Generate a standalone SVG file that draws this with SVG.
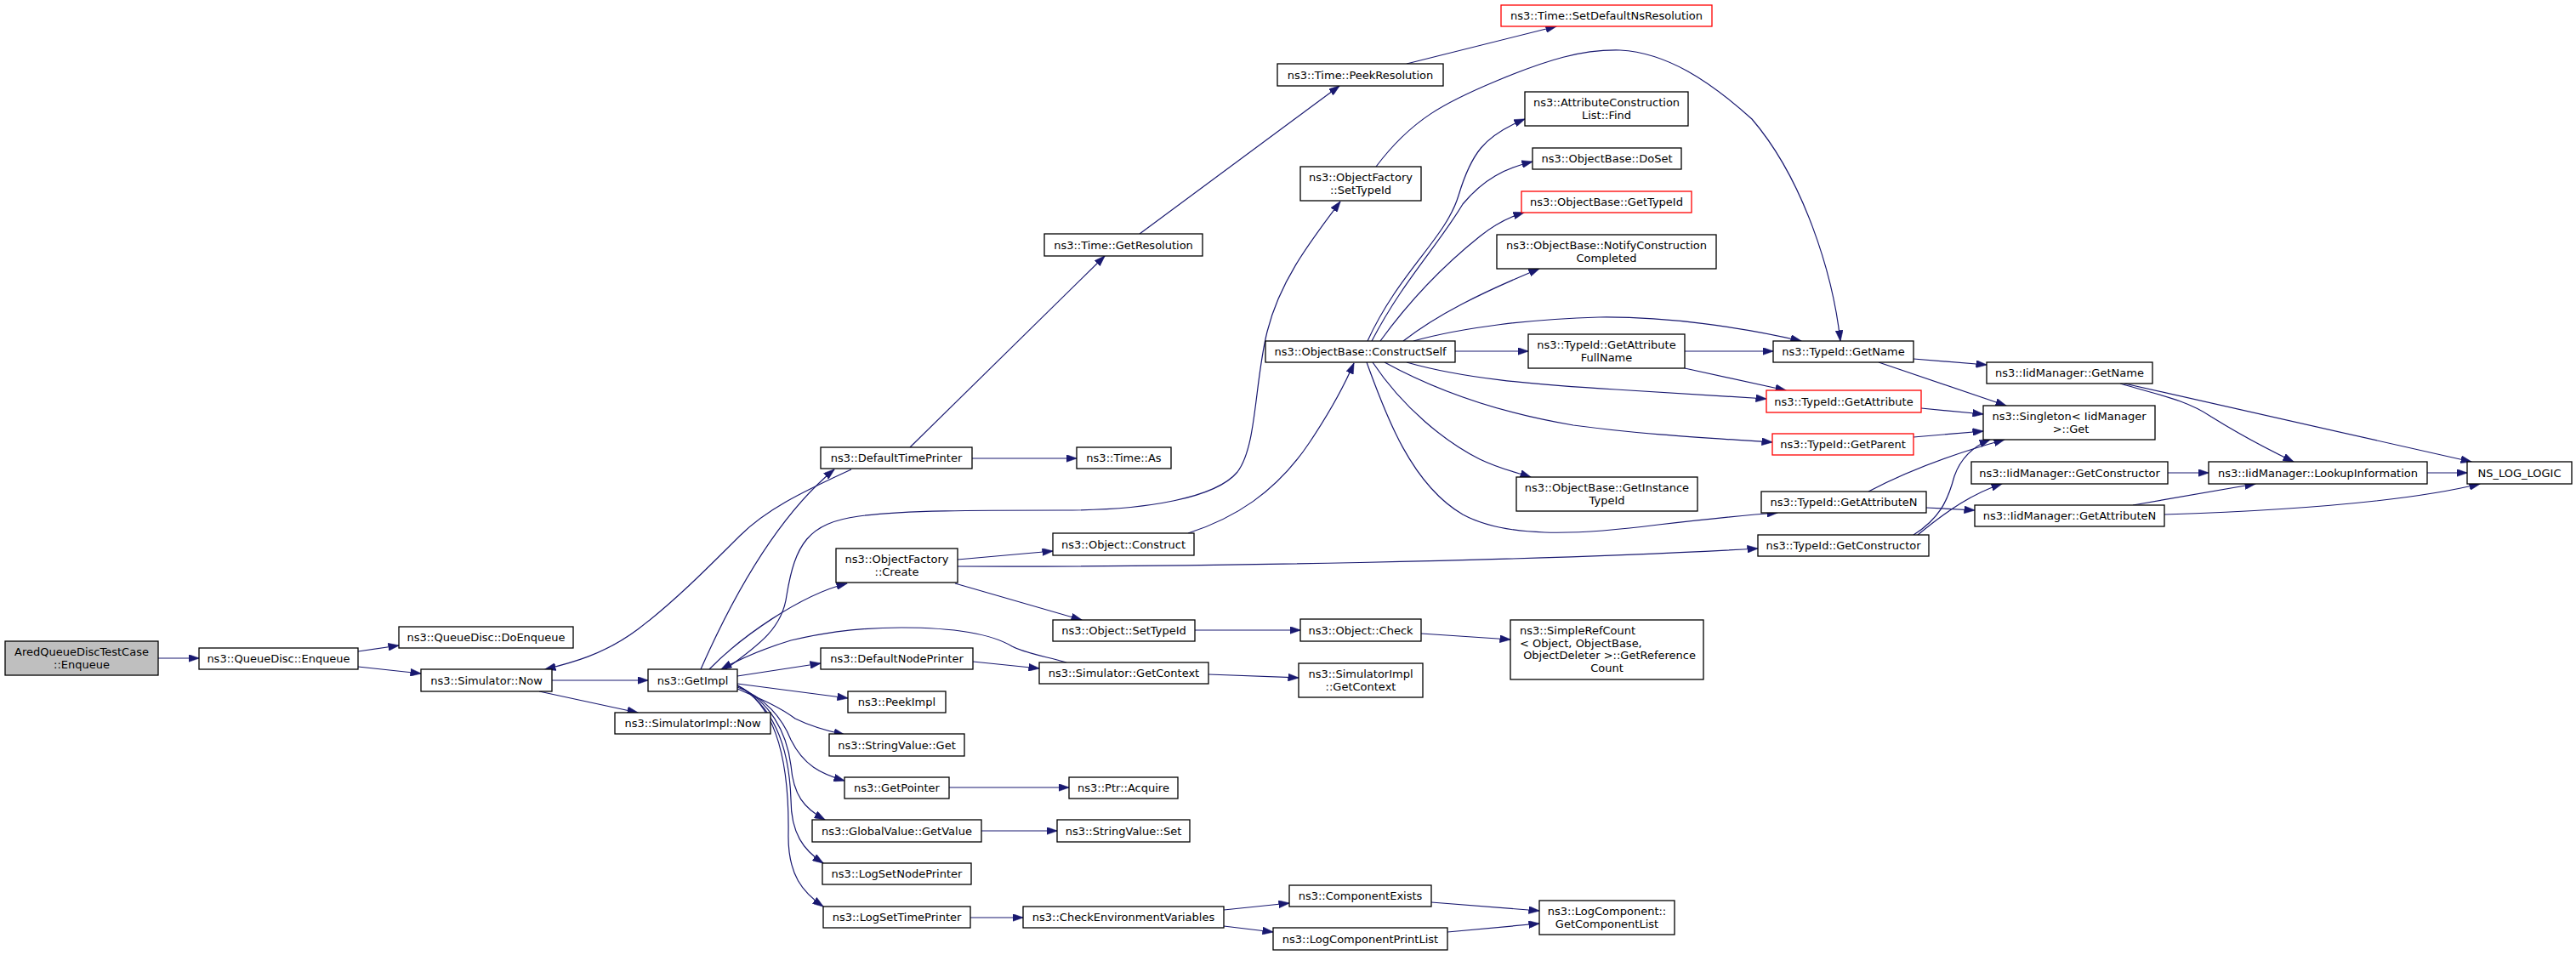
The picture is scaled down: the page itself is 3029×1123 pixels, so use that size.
<svg xmlns="http://www.w3.org/2000/svg" width="3029" height="1123" viewBox="0 0 3029 1123">
<style>
.bg{fill:#ffffff}
.n rect{fill:#ffffff;stroke:#000000;stroke-width:1.3}
.n.red rect{stroke:#ff0000}
.n.root rect{fill:#bfbfbf}
.n text{font-family:"DejaVu Sans","Liberation Sans",sans-serif;font-size:13px;fill:#000000;text-anchor:middle}
.n text.l{text-anchor:start}
#edges path{fill:none;stroke:#191970;stroke-width:1.2;marker-end:url(#ah)}
</style>
<defs>
<marker id="ah" markerUnits="userSpaceOnUse" markerWidth="13" markerHeight="9" viewBox="0 0 13 9" refX="12.5" refY="4.5" orient="auto">
<path d="M0,0 L13,4.5 L0,9 z" fill="#191970" stroke="#191970" stroke-width="0.5"/>
</marker>
</defs>
<rect class="bg" x="0" y="0" width="3029" height="1123"/>
<g id="edges">
<path d="M186,774 L234,774"/>
<path d="M421,766 L469,759"/>
<path d="M421,784 L495,792"/>
<path d="M649,800 L762,800"/>
<path d="M634,813 L750,838"/>
<path d="M824,787 C880,660 935,590 981,552"/>
<path d="M1001,552 C940,580 900,600 870,630 C830,670 790,710 750,740 C710,770 670,780 641,787"/>
<path d="M1070,526 L1299,301"/>
<path d="M1340,275 L1575,101"/>
<path d="M1654,75 L1830,31"/>
<path d="M1618,196 C1660,140 1700,120 1760,95 C1820,70 1860,58 1905,59 C1960,62 2010,95 2060,140 C2120,210 2155,320 2164,401"/>
<path d="M853,787 C890,760 920,740 925,700 C935,640 950,615 1010,607 C1060,600 1150,600 1250,600 C1350,600 1430,585 1455,555 C1478,525 1475,450 1490,390 C1505,330 1540,285 1576,237"/>
<path d="M1254,779 C1230,772 1205,768 1190,760 C1170,748 1130,738 1060,738 C1000,738 960,746 930,753 C900,762 870,775 848,787"/>
<path d="M834,787 C870,750 940,700 996,686"/>
<path d="M867,795 L965,780"/>
<path d="M867,804 L997,821"/>
<path d="M867,810 C890,820 915,830 935,845 C955,855 975,860 993,864"/>
<path d="M867,808 C900,820 920,845 930,870 C945,900 965,910 993,918"/>
<path d="M867,806 C905,825 925,860 930,900 C933,935 945,950 970,964"/>
<path d="M867,806 C910,830 928,880 930,940 C930,980 945,1000 968,1015"/>
<path d="M867,806 C915,830 928,900 927,980 C926,1030 945,1050 968,1066"/>
<path d="M1126,658 L1238,648"/>
<path d="M1123,686 L1272,729"/>
<path d="M1126,666 C1400,667 1800,660 2067,645"/>
<path d="M1397,627 C1450,610 1500,580 1540,520 C1560,490 1580,455 1592,427"/>
<path d="M1405,741 L1529,741"/>
<path d="M1144,778 L1222,786"/>
<path d="M1421,793 L1527,797"/>
<path d="M1116,926 L1257,926"/>
<path d="M1154,977 L1243,977"/>
<path d="M1141,1079 L1203,1079"/>
<path d="M1439,1070 L1516,1062"/>
<path d="M1439,1089 L1497,1096"/>
<path d="M1683,1061 L1810,1071"/>
<path d="M1702,1096 L1810,1086"/>
<path d="M1143,539 L1266,539"/>
<path d="M1671,745 L1776,752"/>
<path d="M1608,401 C1645,320 1700,280 1715,230 C1730,180 1745,160 1793,140"/>
<path d="M1613,401 C1650,330 1690,290 1720,240 C1745,210 1770,198 1802,190"/>
<path d="M1623,401 C1660,350 1700,310 1740,278 C1760,262 1775,255 1792,250"/>
<path d="M1650,401 C1690,370 1740,345 1810,316"/>
<path d="M1662,401 C1720,385 1800,375 1880,373 C1960,372 2050,385 2118,401"/>
<path d="M1711,413 L1797,413"/>
<path d="M1654,426 C1720,445 1800,452 1900,458 C1980,463 2030,466 2077,469"/>
<path d="M1628,426 C1690,460 1760,485 1850,500 C1940,512 2010,515 2084,520"/>
<path d="M1614,426 C1650,480 1700,520 1740,540 C1765,552 1785,556 1800,561"/>
<path d="M1607,426 C1630,490 1660,570 1720,605 C1770,632 1850,630 1950,617 C2010,610 2060,605 2090,603"/>
<path d="M1981,413 L2085,413"/>
<path d="M1981,433 L2100,459"/>
<path d="M2250,422 L2336,429"/>
<path d="M2209,426 L2359,477"/>
<path d="M2259,480 L2332,487"/>
<path d="M2250,514 L2332,507"/>
<path d="M2197,578 C2250,550 2310,530 2357,517"/>
<path d="M2265,597 L2322,600"/>
<path d="M2250,629 C2280,610 2290,590 2298,560 C2305,540 2320,525 2340,517"/>
<path d="M2255,629 C2290,600 2320,580 2354,569"/>
<path d="M2493,451 C2540,465 2570,470 2600,490 C2640,515 2670,530 2697,543"/>
<path d="M2498,451 L2906,543"/>
<path d="M2549,556 L2597,556"/>
<path d="M2508,594 L2652,569"/>
<path d="M2545,605 C2700,600 2830,590 2916,569"/>
<path d="M2854,556 L2901,556"/>
</g>
<g id="n1" class="n root"><rect x="6" y="754" width="180" height="40"/><text x="96" y="771">AredQueueDiscTestCase</text><text x="96" y="785.5">::Enqueue</text></g>
<g id="n2" class="n"><rect x="234" y="762" width="187" height="25"/><text x="327.5" y="779">ns3::QueueDisc::Enqueue</text></g>
<g id="n3" class="n"><rect x="469" y="737" width="205" height="25"/><text x="571.5" y="754">ns3::QueueDisc::DoEnqueue</text></g>
<g id="n4" class="n"><rect x="495" y="787" width="154" height="26"/><text x="572" y="804.5">ns3::Simulator::Now</text></g>
<g id="n5" class="n"><rect x="723" y="838" width="183" height="25"/><text x="814.5" y="855">ns3::SimulatorImpl::Now</text></g>
<g id="n6" class="n"><rect x="762" y="787" width="105" height="26"/><text x="814.5" y="804.5">ns3::GetImpl</text></g>
<g id="n7" class="n"><rect x="983" y="645" width="143" height="40"/><text x="1054.5" y="662">ns3::ObjectFactory</text><text x="1054.5" y="676.5">::Create</text></g>
<g id="n8" class="n"><rect x="1238" y="627" width="166" height="26"/><text x="1321" y="644.5">ns3::Object::Construct</text></g>
<g id="n9" class="n"><rect x="1238" y="729" width="167" height="25"/><text x="1321.5" y="746">ns3::Object::SetTypeId</text></g>
<g id="n10" class="n"><rect x="965" y="762" width="179" height="25"/><text x="1054.5" y="779">ns3::DefaultNodePrinter</text></g>
<g id="n11" class="n"><rect x="1222" y="779" width="199" height="25"/><text x="1321.5" y="796">ns3::Simulator::GetContext</text></g>
<g id="n12" class="n"><rect x="997" y="813" width="115" height="25"/><text x="1054.5" y="830">ns3::PeekImpl</text></g>
<g id="n13" class="n"><rect x="975" y="863" width="159" height="26"/><text x="1054.5" y="880.5">ns3::StringValue::Get</text></g>
<g id="n14" class="n"><rect x="993" y="914" width="123" height="25"/><text x="1054.5" y="931">ns3::GetPointer</text></g>
<g id="n15" class="n"><rect x="1257" y="914" width="128" height="25"/><text x="1321" y="931">ns3::Ptr::Acquire</text></g>
<g id="n16" class="n"><rect x="955" y="964" width="199" height="26"/><text x="1054.5" y="981.5">ns3::GlobalValue::GetValue</text></g>
<g id="n17" class="n"><rect x="1243" y="964" width="156" height="26"/><text x="1321" y="981.5">ns3::StringValue::Set</text></g>
<g id="n18" class="n"><rect x="967" y="1015" width="175" height="25"/><text x="1054.5" y="1032">ns3::LogSetNodePrinter</text></g>
<g id="n19" class="n"><rect x="968" y="1066" width="173" height="25"/><text x="1054.5" y="1083">ns3::LogSetTimePrinter</text></g>
<g id="n20" class="n"><rect x="1203" y="1066" width="236" height="25"/><text x="1321" y="1083">ns3::CheckEnvironmentVariables</text></g>
<g id="n21" class="n"><rect x="1516" y="1041" width="167" height="25"/><text x="1599.5" y="1058">ns3::ComponentExists</text></g>
<g id="n22" class="n"><rect x="1497" y="1091" width="205" height="26"/><text x="1599.5" y="1108.5">ns3::LogComponentPrintList</text></g>
<g id="n23" class="n"><rect x="1810" y="1059" width="159" height="40"/><text x="1889.5" y="1076">ns3::LogComponent::</text><text x="1889.5" y="1090.5">GetComponentList</text></g>
<g id="n24" class="n"><rect x="965" y="526" width="178" height="25"/><text x="1054" y="543">ns3::DefaultTimePrinter</text></g>
<g id="n25" class="n"><rect x="1266" y="526" width="111" height="25"/><text x="1321.5" y="543">ns3::Time::As</text></g>
<g id="n26" class="n"><rect x="1228" y="275" width="186" height="26"/><text x="1321" y="292.5">ns3::Time::GetResolution</text></g>
<g id="n27" class="n"><rect x="1502" y="75" width="195" height="26"/><text x="1599.5" y="92.5">ns3::Time::PeekResolution</text></g>
<g id="n28" class="n red"><rect x="1765" y="6" width="248" height="25"/><text x="1889" y="23">ns3::Time::SetDefaultNsResolution</text></g>
<g id="n29" class="n"><rect x="1529" y="196" width="142" height="40"/><text x="1600" y="213">ns3::ObjectFactory</text><text x="1600" y="227.5">::SetTypeId</text></g>
<g id="n30" class="n"><rect x="1488" y="401" width="223" height="25"/><text x="1599.5" y="418">ns3::ObjectBase::ConstructSelf</text></g>
<g id="n31" class="n"><rect x="1793" y="108" width="192" height="40"/><text x="1889" y="125">ns3::AttributeConstruction</text><text x="1889" y="139.5">List::Find</text></g>
<g id="n32" class="n"><rect x="1802" y="174" width="175" height="25"/><text x="1889.5" y="191">ns3::ObjectBase::DoSet</text></g>
<g id="n33" class="n red"><rect x="1789" y="225" width="200" height="25"/><text x="1889" y="242">ns3::ObjectBase::GetTypeId</text></g>
<g id="n34" class="n"><rect x="1760" y="276" width="258" height="40"/><text x="1889" y="293">ns3::ObjectBase::NotifyConstruction</text><text x="1889" y="307.5">Completed</text></g>
<g id="n35" class="n"><rect x="1797" y="393" width="184" height="40"/><text x="1889" y="410">ns3::TypeId::GetAttribute</text><text x="1889" y="424.5">FullName</text></g>
<g id="n36" class="n"><rect x="2085" y="401" width="165" height="25"/><text x="2167.5" y="418">ns3::TypeId::GetName</text></g>
<g id="n37" class="n red"><rect x="2077" y="459" width="182" height="26"/><text x="2168" y="476.5">ns3::TypeId::GetAttribute</text></g>
<g id="n38" class="n red"><rect x="2084" y="510" width="166" height="25"/><text x="2167" y="527">ns3::TypeId::GetParent</text></g>
<g id="n39" class="n"><rect x="1783" y="561" width="213" height="40"/><text x="1889.5" y="578">ns3::ObjectBase::GetInstance</text><text x="1889.5" y="592.5">TypeId</text></g>
<g id="n40" class="n"><rect x="2071" y="578" width="194" height="25"/><text x="2168" y="595">ns3::TypeId::GetAttributeN</text></g>
<g id="n41" class="n"><rect x="2067" y="629" width="201" height="25"/><text x="2167.5" y="646">ns3::TypeId::GetConstructor</text></g>
<g id="n42" class="n"><rect x="1529" y="728" width="142" height="26"/><text x="1600" y="745.5">ns3::Object::Check</text></g>
<g id="n43" class="n"><rect x="1776" y="729" width="227" height="70"/><text class="l" x="1787" y="746">ns3::SimpleRefCount</text><text class="l" x="1787" y="760.5">&lt; Object, ObjectBase,</text><text class="l" x="1787" y="775" xml:space="preserve"> ObjectDeleter &gt;::GetReference</text><text x="1889.5" y="789.5">Count</text></g>
<g id="n44" class="n"><rect x="1527" y="780" width="146" height="40"/><text x="1600" y="797">ns3::SimulatorImpl</text><text x="1600" y="811.5">::GetContext</text></g>
<g id="n45" class="n"><rect x="2336" y="426" width="195" height="25"/><text x="2433.5" y="443">ns3::IidManager::GetName</text></g>
<g id="n46" class="n"><rect x="2332" y="477" width="202" height="40"/><text x="2433" y="494">ns3::Singleton&lt; IidManager</text><text x="2433" y="508.5" xml:space="preserve"> &gt;::Get</text></g>
<g id="n47" class="n"><rect x="2318" y="543" width="231" height="26"/><text x="2433.5" y="560.5">ns3::IidManager::GetConstructor</text></g>
<g id="n48" class="n"><rect x="2597" y="543" width="257" height="26"/><text x="2725.5" y="560.5">ns3::IidManager::LookupInformation</text></g>
<g id="n49" class="n"><rect x="2901" y="543" width="123" height="26"/><text x="2962.5" y="560.5">NS_LOG_LOGIC</text></g>
<g id="n50" class="n"><rect x="2322" y="594" width="223" height="25"/><text x="2433.5" y="611">ns3::IidManager::GetAttributeN</text></g>
</svg>
